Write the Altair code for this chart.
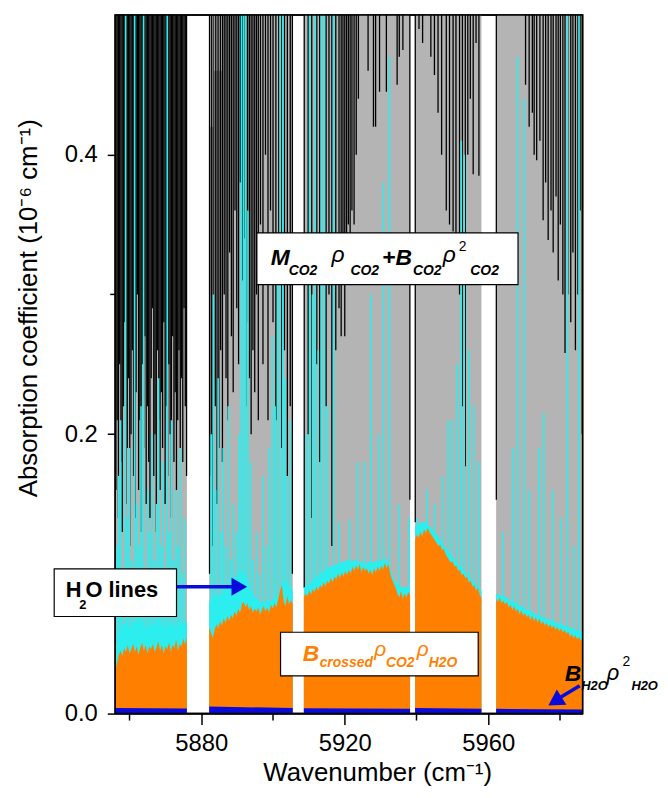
import altair as alt
import numpy as np
import pandas as pd

FONT = "Liberation Sans"
X_MIN, X_MAX = 5856.0, 5986.3
Y_MAX = 0.5

# ---------------- data ----------------
# measured spectral windows (gaps are white)
seg_start = [5856.0, 5882.2, 5908.6, 5939.6, 5962.2]
seg_end = [5876.0, 5905.5, 5938.2, 5958.1, 5986.3]

# CO2 (M rho + B rho^2) envelope blocks (grey, mostly off-scale)
co2_x1 = [5856.0, 5882.2, 5883.5, 5885.8, 5908.6, 5939.6, 5962.2]
co2_x2 = [5876.0, 5883.5, 5885.8, 5905.5, 5938.2, 5958.1, 5986.3]
co2_top = [0.50, 0.42, 0.46, 0.50, 0.50, 0.50, 0.50]

# CO2 envelope dips (black outline spikes from the top)
dip1_low = [0.16, 0.21, 0.14, 0.25, 0.18, 0.13, 0.22, 0.28, 0.15, 0.19, 0.24, 0.12,
            0.20, 0.26, 0.17, 0.14, 0.23, 0.30, 0.16, 0.21, 0.13, 0.25, 0.19, 0.27,
            0.15, 0.22, 0.18, 0.14, 0.24, 0.29, 0.17, 0.20, 0.13, 0.26, 0.21, 0.16,
            0.23, 0.19, 0.28, 0.15, 0.22, 0.17, 0.25, 0.20, 0.14, 0.27, 0.18, 0.23,
            0.16, 0.21, 0.26, 0.19, 0.24, 0.18, 0.29, 0.22, 0.17]
dip_x = [5882.3, 5882.8, 5883.3, 5883.9, 5884.4, 5884.9, 5885.4, 5885.9, 5886.4, 5886.9,
         5887.4, 5887.9, 5888.4, 5888.9, 5889.4, 5889.9, 5890.4, 5890.9, 5891.4, 5891.9,
         5892.4, 5892.9, 5893.4, 5893.9, 5894.4, 5894.9, 5895.4, 5895.9, 5896.5, 5897.2,
         5897.9, 5898.6, 5899.3, 5900.0, 5900.8, 5901.6, 5902.4, 5903.2, 5904.0, 5904.8,
         5905.4,
         5908.7, 5909.8, 5910.8, 5912.2, 5913.0, 5914.8, 5915.6, 5916.4, 5917.5, 5918.4,
         5919.0, 5919.5, 5920.0, 5920.5, 5921.0, 5921.5, 5922.0, 5922.6, 5923.2, 5923.8,
         5926.5, 5928.0, 5928.6, 5929.7, 5931.6, 5934.6, 5935.2, 5936.2, 5938.15,
         5939.65, 5940.7, 5941.7, 5944.0, 5945.0, 5946.0, 5947.0, 5948.3, 5949.2, 5950.2,
         5951.0, 5952.0, 5952.8, 5953.6, 5954.3, 5955.0, 5955.8, 5956.6, 5957.4,
         5962.25, 5970.4, 5971.4, 5972.3, 5972.8, 5973.5, 5974.4, 5975.3, 5976.0, 5976.7,
         5977.5, 5978.1, 5978.9, 5979.5, 5980.1, 5980.8, 5981.4, 5982.2, 5983.0, 5983.6,
         5984.3, 5985.0, 5985.6, 5986.2]
dip_low = [0.10, 0.17, 0.12, 0.22, 0.15, 0.19, 0.26, 0.18, 0.30, 0.24,
           0.21, 0.33, 0.27, 0.23, 0.36, 0.29, 0.25, 0.38, 0.31, 0.34,
           0.22, 0.28, 0.24, 0.20, 0.26, 0.23, 0.30, 0.21, 0.35, 0.25,
           0.40, 0.21, 0.36, 0.28, 0.21, 0.33, 0.19, 0.26, 0.17, 0.22,
           0.10,
           0.09, 0.20, 0.14, 0.25, 0.18, 0.22, 0.30, 0.12, 0.26, 0.29,
           0.27, 0.31, 0.27, 0.33, 0.35, 0.34, 0.36, 0.35, 0.40, 0.44,
           0.46, 0.42, 0.42, 0.445, 0.445, 0.45, 0.47, 0.475, 0.153,
           0.137, 0.49, 0.48, 0.47, 0.457, 0.43, 0.40, 0.36, 0.35, 0.345,
           0.33, 0.30, 0.22, 0.177, 0.40, 0.44, 0.386, 0.48, 0.385,
           0.153, 0.45, 0.42, 0.43, 0.40, 0.396, 0.41, 0.353, 0.38, 0.339,
           0.36, 0.33, 0.37, 0.31, 0.35, 0.30, 0.258, 0.30, 0.28, 0.33,
           0.26, 0.30, 0.36, 0.20]

# H2O lines (cyan)
h2o_x = [5856.5, 5857.0, 5857.5, 5858.0, 5858.9, 5859.4, 5860.0, 5860.6, 5861.4, 5862.0,
         5862.6, 5863.2, 5863.9, 5864.5, 5865.1, 5865.7, 5866.3, 5866.9, 5867.5, 5868.1,
         5868.7, 5869.3, 5869.9, 5870.5, 5871.1, 5871.7, 5872.3, 5872.9, 5873.5, 5874.1,
         5874.7, 5875.3,
         5882.8, 5883.4, 5884.0, 5884.7, 5885.4, 5886.1, 5886.8, 5887.5, 5888.2, 5889.0,
         5889.8, 5890.6, 5891.2, 5891.8, 5892.4, 5893.0, 5893.7, 5894.5, 5895.4, 5896.3,
         5897.2, 5898.1, 5899.0, 5899.8, 5900.6, 5901.3, 5902.0, 5902.7, 5903.4, 5904.1,
         5904.8,
         5909.3, 5910.2, 5911.0, 5911.8, 5912.6, 5913.5, 5914.3, 5915.2, 5916.9, 5918.4,
         5921.4, 5923.6, 5925.5, 5927.3, 5929.4, 5930.8, 5932.5, 5935.0, 5937.9,
         5940.3, 5941.6, 5943.0, 5945.0, 5947.2, 5948.8, 5949.9, 5951.2, 5952.5, 5953.3,
         5954.6, 5956.0, 5957.3,
         5964.0, 5966.8, 5968.2, 5970.0, 5971.5, 5974.2, 5975.5, 5977.9, 5980.2, 5982.1,
         5983.9, 5985.3]
h2o_top = [0.12, 0.17, 0.21, 0.10, 0.50, 0.14, 0.19, 0.11, 0.50, 0.15,
           0.12, 0.22, 0.50, 0.10, 0.16, 0.13, 0.20, 0.11, 0.15, 0.24,
           0.12, 0.18, 0.10, 0.50, 0.13, 0.21, 0.11, 0.16, 0.12, 0.19,
           0.10, 0.14,
           0.20, 0.30, 0.16, 0.24, 0.13, 0.19, 0.12, 0.22, 0.11, 0.15,
           0.13, 0.20, 0.50, 0.50, 0.50, 0.36, 0.18, 0.11, 0.13, 0.10,
           0.17, 0.12, 0.19, 0.27, 0.22, 0.31, 0.50, 0.50, 0.24, 0.17,
           0.21,
           0.20, 0.50, 0.30, 0.50, 0.26, 0.50, 0.50, 0.22, 0.50, 0.137,
           0.139, 0.18, 0.18, 0.30, 0.20, 0.38, 0.47, 0.15, 0.14,
           0.14, 0.13, 0.16, 0.15, 0.17, 0.21, 0.21, 0.25, 0.41, 0.40,
           0.26, 0.22, 0.18,
           0.13, 0.19, 0.47, 0.44, 0.16, 0.19, 0.215, 0.16, 0.14, 0.50,
           0.12, 0.50]

# H2O-line continuum band (cyan, just above the orange)
h2o_band = [
    [0.036, 0.055, 0.062, 0.066, 0.060, 0.068, 0.064, 0.070, 0.063, 0.061, 0.067,
     0.062, 0.069, 0.064, 0.061, 0.066, 0.063, 0.062, 0.067, 0.064, 0.066],
    [0.080, 0.084, 0.086, 0.083, 0.088, 0.091, 0.094, 0.097, 0.100, 0.102, 0.098,
     0.092, 0.086, 0.082, 0.080, 0.079, 0.081, 0.080, 0.083, 0.086, 0.090, 0.096,
     0.092, 0.088],
    [0.090, 0.092, 0.094, 0.097, 0.099, 0.101, 0.103, 0.105, 0.106, 0.107, 0.108,
     0.109, 0.110, 0.109, 0.110, 0.108, 0.109, 0.107, 0.109, 0.108, 0.110, 0.109,
     0.112, 0.108, 0.101, 0.094, 0.092, 0.090, 0.091, 0.089],
    [0.134, 0.136, 0.137, 0.137, 0.134, 0.131, 0.128, 0.124, 0.120, 0.116, 0.113,
     0.109, 0.106, 0.103, 0.100, 0.097, 0.094, 0.091, 0.088],
    [0.086, 0.085, 0.084, 0.083, 0.081, 0.080, 0.078, 0.077, 0.075, 0.074, 0.073,
     0.071, 0.070, 0.069, 0.068, 0.067, 0.066, 0.065, 0.064, 0.063, 0.062, 0.061,
     0.060, 0.059, 0.059],
]

# B_crossed rho_CO2 rho_H2O (orange)
crossed = [
    [0.030, 0.036, 0.042, 0.045, 0.041, 0.047, 0.044, 0.049, 0.043, 0.046, 0.050,
     0.044, 0.048, 0.042, 0.047, 0.051, 0.045, 0.049, 0.043, 0.048, 0.046, 0.050,
     0.044, 0.047, 0.052, 0.045, 0.049, 0.043, 0.048, 0.046, 0.051, 0.044, 0.049,
     0.047, 0.053, 0.045, 0.050, 0.048, 0.054, 0.049, 0.055],
    [0.062, 0.058, 0.054, 0.060, 0.064, 0.061, 0.066, 0.063, 0.068, 0.065, 0.070,
     0.066, 0.071, 0.068, 0.073, 0.070, 0.075, 0.072, 0.078, 0.080, 0.076, 0.079,
     0.074, 0.077, 0.072, 0.075, 0.073, 0.076, 0.071, 0.074, 0.077, 0.073, 0.076,
     0.072, 0.078, 0.075, 0.079, 0.076, 0.082, 0.088, 0.092, 0.080, 0.077, 0.084,
     0.078, 0.081, 0.079],
    [0.083, 0.086, 0.084, 0.088, 0.085, 0.089, 0.087, 0.091, 0.088, 0.092, 0.090,
     0.094, 0.091, 0.095, 0.093, 0.097, 0.094, 0.098, 0.096, 0.100, 0.097, 0.101,
     0.098, 0.102, 0.099, 0.103, 0.100, 0.105, 0.102, 0.106, 0.103, 0.107, 0.101,
     0.105, 0.102, 0.104, 0.100, 0.103, 0.099, 0.104, 0.101, 0.105, 0.102, 0.106,
     0.103, 0.108, 0.104, 0.107, 0.100, 0.096, 0.093, 0.090, 0.086, 0.083, 0.088,
     0.082, 0.086, 0.083, 0.087, 0.085],
    [0.125, 0.128, 0.126, 0.130, 0.127, 0.132, 0.129, 0.133, 0.130, 0.128, 0.126,
     0.124, 0.122, 0.120, 0.121, 0.117, 0.118, 0.114, 0.112, 0.110, 0.108, 0.109,
     0.105, 0.106, 0.102, 0.103, 0.099, 0.100, 0.097, 0.098, 0.094, 0.095, 0.091,
     0.092, 0.088, 0.090, 0.085, 0.083],
    [0.082, 0.080, 0.083, 0.079, 0.081, 0.078, 0.080, 0.076, 0.078, 0.074, 0.077,
     0.073, 0.075, 0.071, 0.074, 0.070, 0.072, 0.069, 0.071, 0.067, 0.070, 0.066,
     0.069, 0.065, 0.068, 0.064, 0.066, 0.063, 0.065, 0.062, 0.064, 0.061, 0.063,
     0.060, 0.062, 0.059, 0.061, 0.058, 0.060, 0.057, 0.059, 0.055, 0.057, 0.054,
     0.056, 0.053, 0.055, 0.052, 0.054],
]

# B_H2O rho_H2O^2 (blue) at the window edges
bh2o = [[0.0040, 0.0036], [0.0050, 0.0040], [0.0038, 0.0034], [0.0040, 0.0035], [0.0034, 0.0030]]

x_major = [5880, 5920, 5960]
x_minor = [5860, 5900, 5940, 5980]
y_major = [0.0, 0.2, 0.4]
y_minor = [0.1, 0.3]

# ---------------- tables ----------------
def profile(series):
    rows = []
    for i, vals in enumerate(series):
        xs_ = np.linspace(seg_start[i], seg_end[i], len(vals))
        for x, v in zip(xs_, vals):
            rows.append({"seg": i, "x": float(x), "y": v, "y0": 0.0})
    return pd.DataFrame(rows)

gray_df = pd.DataFrame({"x1": co2_x1, "x2": co2_x2, "top": co2_top, "base": 0.0})
dip1_x = np.linspace(seg_start[0] + 0.2, seg_end[0] - 0.1, len(dip1_low))
black_df = pd.DataFrame({"x": list(dip1_x) + dip_x, "low": dip1_low + dip_low, "top": Y_MAX})
cyan_df = pd.DataFrame({"x": h2o_x, "top": h2o_top, "base": 0.0})
band_df = profile(h2o_band)
orange_df = profile(crossed)
blue_df = profile(bh2o)

# ---------------- scales / axes ----------------
xs = alt.Scale(domain=[X_MIN, X_MAX], nice=False, zero=False)
ys = alt.Scale(domain=[0, Y_MAX], nice=False)
xaxis = alt.Axis(values=x_major, format="d", title="Wavenumber (cm⁻¹)", tickSize=11,
                 labelPadding=26, labelBaseline="alphabetic", titleX=264, titleY=67,
                 titleBaseline="alphabetic", titleAlign="center")
yaxis = alt.Axis(values=y_major, format=".1f", title="Absorption coefficient (10⁻⁶ cm⁻¹)",
                 tickSize=8, labelPadding=10, titleX=-79, titleY=295, titleAngle=270,
                 titleBaseline="alphabetic", titleAlign="center")


def X(f):
    return alt.X(f, type="quantitative", scale=xs, axis=xaxis)


def Y(f):
    return alt.Y(f, type="quantitative", scale=ys, axis=yaxis)


gray = alt.Chart(gray_df).mark_rect(color="#b4b4b4", clip=True).encode(
    x=X("x1"), x2="x2", y=Y("base"), y2="top")
black = alt.Chart(black_df).mark_rule(color="black", strokeWidth=1.3, clip=True).encode(
    x=X("x"), y=Y("low"), y2="top")
cyan_lines = alt.Chart(cyan_df).mark_rule(color="#2ceeee", strokeWidth=1.6, clip=True).encode(
    x=X("x"), y=Y("base"), y2="top")
band = alt.Chart(band_df).mark_area(color="#2ceeee", opacity=1, clip=True).encode(
    x=X("x"), y=Y("y"), y2="y0", detail="seg:N")
orange = alt.Chart(orange_df).mark_area(color="#ff8000", opacity=1, clip=True).encode(
    x=X("x"), y=Y("y"), y2="y0", detail="seg:N")
blue = alt.Chart(blue_df).mark_area(color="#0a0adc", opacity=1, clip=True).encode(
    x=X("x"), y=Y("y"), y2="y0", detail="seg:N")

# plot frame over the data (drawn below the annotation boxes)
frame = alt.Chart(pd.DataFrame({"k": [0]})).mark_rect(fill=None, stroke="black", strokeWidth=1.5).encode(
    x=alt.value(0), x2=alt.value(471), y=alt.value(0), y2=alt.value(704))
minor_x = alt.Chart(pd.DataFrame({"x": x_minor})).mark_rule(color="black", strokeWidth=1.5).encode(
    x=X("x"), y=alt.value(704), y2=alt.value(711))
minor_y = alt.Chart(pd.DataFrame({"y": y_minor})).mark_rule(color="black", strokeWidth=1.5).encode(
    y=Y("y"), x=alt.value(0), x2=alt.value(-5))

# ---------------- annotations ----------------
boxes = pd.DataFrame({
    "x1": [5895.5, 5839.0, 5902.1],
    "x2": [5968.3, 5873.1, 5957.2],
    "y1": [0.344, 0.1035, 0.0582],
    "y2": [0.307, 0.0695, 0.0270],
})
box_layer = alt.Chart(boxes).mark_rect(fill="white", stroke="black", strokeWidth=1.2).encode(
    x=X("x1"), x2="x2", y=Y("y1"), y2="y2")


def text_layer(rows, size, weight="normal", style="normal", color="black"):
    df = pd.DataFrame(rows, columns=["t", "x", "y"])
    return alt.Chart(df).mark_text(align="left", baseline="alphabetic", font=FONT,
                                   fontSize=size, fontWeight=weight, fontStyle=style,
                                   color=color).encode(x=X("x"), y=Y("y"), text="t:N")


big_bi = text_layer([["M", 5899.4, 0.3213], ["+B", 5930.4, 0.3213]], 23, "bold", "italic")
sub_bi = text_layer([["CO2", 5904.4, 0.3142], ["CO2", 5921.6, 0.3142], ["CO2", 5939.0, 0.3142],
                     ["CO2", 5955.0, 0.3142]], 14, "bold", "italic")
sub_h = text_layer([["H2O", 5985.9, 0.0170], ["H2O", 5999.9, 0.0170]], 13, "bold", "italic")
rho = text_layer([["ρ", 5993.0, 0.0240]], 22, "normal", "italic")
rho_m = text_layer([["ρ", 5916.3, 0.3230], ["ρ", 5947.3, 0.3230]], 23, "normal", "italic")
sup2 = text_layer([["2", 5951.8, 0.331], ["2", 5997.4, 0.034]], 14)
bh_big = text_layer([["B", 5981.3, 0.0234]], 23, "bold", "italic")
h2o_lbl = text_layer([["H", 5842.2, 0.0837], ["O lines", 5847.7, 0.0837]], 22, "bold")
h2o_sub = text_layer([["2", 5846.0, 0.0745]], 13, "bold")
or_big = text_layer([["B", 5908.3, 0.0376]], 23, "bold", "italic", "#ff8000")
or_rho = text_layer([["ρ", 5928.2, 0.0410], ["ρ", 5940.1, 0.0410]], 21, "normal", "italic", "#ff8000")
or_sub = text_layer([["crossed", 5913.0, 0.0333], ["CO2", 5931.5, 0.0333], ["H2O", 5943.4, 0.0333]],
                    14, "bold", "italic", "#ff8000")

arrows = pd.DataFrame({"x1": [5873.2, 5985.5], "y1": [0.0908, 0.0199],
                       "x2": [5889.5, 5979.8], "y2": [0.0908, 0.0112]})
arrow_shaft = alt.Chart(arrows).mark_rule(color="#0a0adc", strokeWidth=3.5).encode(
    x=X("x1"), x2="x2", y=Y("y1"), y2="y2")
heads = pd.DataFrame({"x": [5890.6, 5978.6], "y": [0.0908, 0.0088], "ang": [90, 238]})
arrow_head = alt.Chart(heads).mark_point(shape="triangle-up", filled=True, size=330,
                                         color="#0a0adc", opacity=1).encode(
    x=X("x"), y=Y("y"), angle=alt.Angle("ang:Q", scale=None))

chart = alt.layer(
    gray, black, cyan_lines, band, orange, blue, frame, minor_x, minor_y,
    box_layer, big_bi, sub_bi, sub_h, rho, rho_m, sup2, bh_big, h2o_lbl, h2o_sub, or_big, or_rho,
    or_sub, arrow_shaft, arrow_head,
).properties(
    width=471, height=704,
    autosize=alt.AutoSizeParams(type="none"),
    padding={"left": 108, "top": 4, "right": 78, "bottom": 74},
).configure_view(
    stroke="black", strokeWidth=1.5
).configure_axis(
    labelFont=FONT, titleFont=FONT, labelFontSize=24, titleFontSize=26,
    titleFontWeight="normal", labelColor="black", titleColor="black",
    tickColor="black", domainColor="black", tickWidth=1.5, domainWidth=1.5, grid=False,
)

chart.save("out.html", embed_options={"renderer": "svg", "actions": False})
